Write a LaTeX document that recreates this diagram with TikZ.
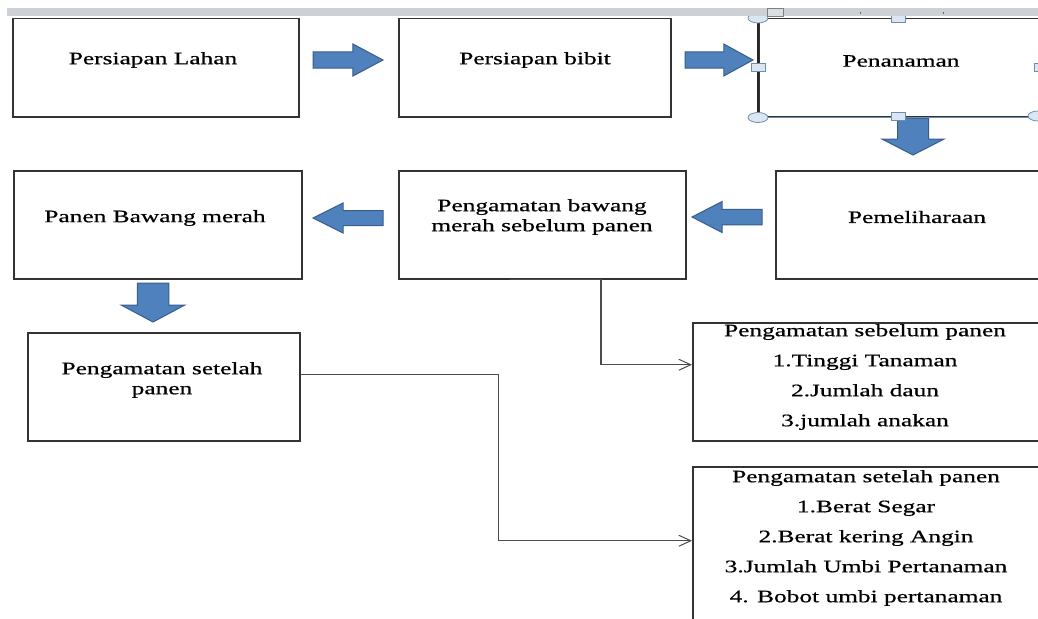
\documentclass[tikz,border=0pt]{standalone}
\usepackage{fontspec}
\setmainfont{Liberation Serif}[FakeStretch=1.45, FakeBold=0.6]
\usetikzlibrary{positioning}
\usetikzlibrary{arrows.meta}
\definecolor{arrowblue}{HTML}{4F81BD}
\definecolor{arrowedge}{HTML}{385D8A}
\definecolor{rulergray}{HTML}{CDD1D6}
\definecolor{handlefill}{HTML}{DCE6F2}
\definecolor{handleedge}{HTML}{6E8DAE}

\begin{document}
\begin{tikzpicture}[x=1pt, y=-1pt,
            box/.style = {draw=black!80, line width=1.5pt,
                anchor=north west, inner sep=0pt},
            txt/.style = {inner sep=0pt, align=center,
                font=\fontsize{17.5}{20}\selectfont},
            list/.style = {txt, font=\fontsize{17.5}{30}\selectfont},
            conn/.style = {draw=black!70, line width=1.4pt,
                -{Straight Barb[length=12pt,width=11pt,line width=1pt]}},
            handle/.style = {fill=handlefill, draw=handleedge, line width=0.8pt},
            barrow/.pic = {\filldraw[fill=arrowblue, draw=arrowedge, line width=1pt]
                (0,-0.25) -- (0.57,-0.25) -- (0.57,-0.5) -- (1,0) -- (0.57,0.5)
                -- (0.57,0.25) -- (0,0.25) -- cycle;}]
            \useasboundingbox (0,0) rectangle (1038,618);
            \clip (0,0) rectangle (1038,618);

            % boxes
            \node[box, minimum width=286pt, minimum height=98pt] (lahan) at (12,18) {};
            \node[box, minimum width=272pt, minimum height=98pt] (bibit) at (398,18) {};
            \node[box, minimum width=284pt, minimum height=98pt] (tanam) at (758,18) {};
            \node[box, minimum width=270pt, minimum height=108pt] (pelihara) at (775,170) {};
            \node[box, minimum width=287pt, minimum height=108pt] (amatbwg) at (398,170) {};
            \node[box, minimum width=288pt, minimum height=108pt] (panen) at (13,170) {};
            \node[box, minimum width=272pt, minimum height=108pt] (setelah) at (27,332) {};
            \node[box, minimum width=350pt, minimum height=118pt] (obssebelum) at (692,322) {};
            \node[box, minimum width=350pt, minimum height=184pt] (obssetelah) at (692,466) {};

            % texts
            \node[txt] (lahanT) at (153,60) {Persiapan Lahan};
            \node[txt] (bibitT) at (535,60) {Persiapan bibit};
            \node[txt] (tanamT) at (901,61) {Penanaman};
            \node[txt] (peliharaT) at (917,217) {Pemeliharaan};
            \node[txt] (amatbwgT) at (542,217) {Pengamatan bawang\\merah sebelum panen};
            \node[txt] (panenT) at (155,218) {Panen Bawang merah};
            \node[txt] (setelahT) at (162,380) {Pengamatan setelah\\panen};
            \node[list] (obssebelumT) at (865,377) {Pengamatan sebelum panen\\
                1.Tinggi Tanaman\\2.Jumlah daun\\3.jumlah anakan};
            \node[list] (obssetelahT) at (866,538) {Pengamatan setelah panen\\
                1.Berat Segar\\2.Berat kering Angin\\3.Jumlah Umbi Pertanaman\\
                4. Bobot umbi pertanaman};

            % block arrows
            \pic[xscale=70, yscale=32] at (313,60) {barrow};
            \pic[xscale=68, yscale=32] at (685,60) {barrow};
            \pic[rotate=-90, xscale=37, yscale=62] at (913,118) {barrow};
            \pic[rotate=180, xscale=70, yscale=31] at (762,217) {barrow};
            \pic[rotate=180, xscale=70, yscale=30] at (383,218) {barrow};
            \pic[rotate=-90, xscale=39, yscale=63] at (153,283) {barrow};

            % connectors
            \draw[conn] ([xshift=112pt]amatbwg.south west)
                -- ([xshift=203pt]amatbwg.south west) |- ([yshift=17pt]obssebelum.west);
            \draw[conn] ([yshift=12pt]setelah.east) -- ++(198,0)
                |- ([yshift=18pt]obssetelah.west);

            % selection of Penanaman
            \draw[line width=2.5pt, black!85] (tanam.north west) -- (tanam.south west);
            \draw[line width=1pt, handleedge] (tanam.south west) -- (tanam.south east);
            \filldraw[handle] (tanam.north west) ellipse (10pt and 5pt);
            \filldraw[handle] (tanam.south west) ellipse (10pt and 5pt);
            \filldraw[handle] (1038,116) ellipse (10pt and 5pt);
            \filldraw[handle] (751,63) rectangle (765,71);
            \filldraw[handle] (891,112) rectangle (905,120);
            \filldraw[handle] (891,14) rectangle (905,22);
            \filldraw[handle] (1034,63) rectangle (1046,71);

            % ruler
            \fill[rulergray] (7,8) rectangle (1038,16);
            \filldraw[fill=rulergray!70, draw=gray] (767,8) rectangle (783,16);
            \draw[gray!80!black] (860,12) -- (860,14) (943,12) -- (943,14);
        \end{tikzpicture}
\end{document}
